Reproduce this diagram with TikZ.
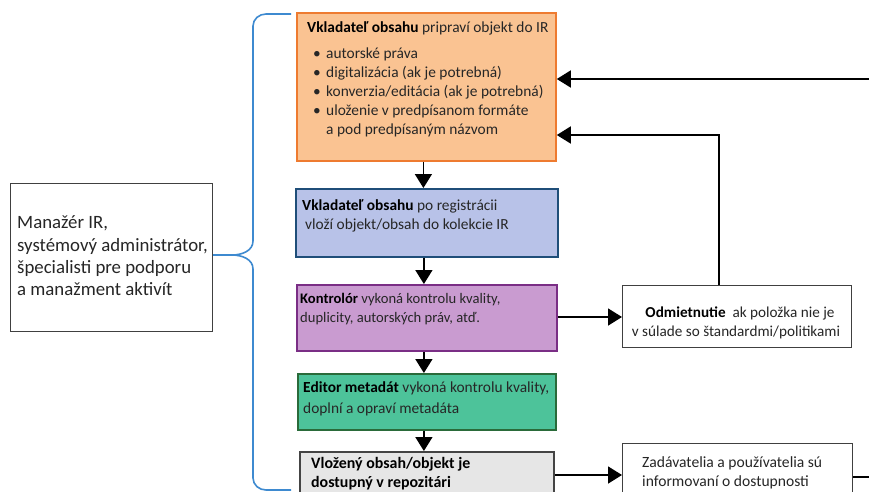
\documentclass[tikz,border=0pt]{standalone}
\usepackage{fontspec}
\setmainfont{Carlito}
\usetikzlibrary{arrows.meta}
\definecolor{orfill}{HTML}{FAC392}
\definecolor{ordraw}{HTML}{EE7B30}
\definecolor{blfill}{HTML}{B8C2E8}
\definecolor{bldraw}{HTML}{1F4E79}
\definecolor{pufill}{HTML}{C99BD0}
\definecolor{pudraw}{HTML}{7A2E85}
\definecolor{grfill}{HTML}{4DC39A}
\definecolor{grdraw}{HTML}{2A6B3A}
\definecolor{gyfill}{HTML}{E6E6E6}
\definecolor{gydraw}{HTML}{444444}
\definecolor{bracecol}{HTML}{3E8AD0}
\definecolor{txt}{HTML}{262626}
\begin{document}
\begin{tikzpicture}[x=1pt,y=-1pt,
  box/.style={draw, line width=1.8pt, inner sep=0pt, anchor=north west},
  plainbox/.style={draw=black!75, line width=1.1pt, fill=white, inner sep=0pt, anchor=north west},
  ln/.style={anchor=base west, inner sep=0pt, text=txt, font=\fontsize{15.4}{18}\selectfont},
  lnc/.style={anchor=base, inner sep=0pt, text=txt, font=\fontsize{15.2}{18}\selectfont},
  lnbig/.style={anchor=base west, inner sep=0pt, text=txt, font=\fontsize{18.8}{22}\selectfont},
  arr/.style={line width=1.6pt, -{Triangle[length=14pt,width=17pt]}}
]
\useasboundingbox (0,0) rectangle (869,491);
\clip (0,0) rectangle (869,491);
\fill[white] (0,0) rectangle (869,491);

% left box
\node[plainbox, minimum width=202pt, minimum height=148pt] (m) at (10,183) {};
\node[lnbig] (m1) at (17,228) {Manažér IR,};
\node[lnbig] (m2) at (17,251) {systémový administrátor,};
\node[lnbig] (m3) at (17,273) {špecialisti pre podporu};
\node[lnbig] (m4) at (17,295) {a manažment aktivít};

% brace
\coordinate (bt) at (232,255);
\draw[bracecol, line width=1.6pt] (m.east |- bt) -- (bt)
  to[out=0,in=-90] (253,241) -- (253,26) to[out=90,in=180] (266,14) -- (291,14);
\draw[bracecol, line width=1.6pt] (bt)
  to[out=0,in=90] (253,269) -- (253,478) to[out=-90,in=180] (266,490) -- (291,490);

% orange
\node[box, fill=orfill, draw=ordraw, minimum width=259pt, minimum height=148pt] (o) at (296,12) {};
\node[ln] (o1) at (307,32) {\textbf{\color{black}Vkladateľ obsahu} pripraví objekt do IR};
\node[ln] (o2) at (313,58) {\makebox[13pt][l]{•}autorské práva};
\node[ln] (o3) at (313,77) {\makebox[13pt][l]{•}digitalizácia (ak je potrebná)};
\node[ln] (o4) at (313,96) {\makebox[13pt][l]{•}konverzia/editácia (ak je potrebná)};
\node[ln] (o5) at (313,115) {\makebox[13pt][l]{•}uloženie v predpísanom formáte};
\node[ln] (o6) at (326,134) {a pod predpísaným názvom};

% blue
\node[box, fill=blfill, draw=bldraw, minimum width=262pt, minimum height=68pt] (b) at (295,188) {};
\node[ln] (b1) at (302,210) {\textbf{\color{black}Vkladateľ obsahu} po registrácii};
\node[ln] (b2) at (305,229) {vloží objekt/obsah do kolekcie IR};

% purple
\node[box, fill=pufill, draw=pudraw, minimum width=260pt, minimum height=66pt] (p) at (296,284) {};
\node[ln, font=\fontsize{14.6}{17}\selectfont] (p1) at (300,303) {\textbf{\color{black}Kontrolór} vykoná kontrolu kvality,};
\node[ln, font=\fontsize{14.6}{17}\selectfont] (p2) at (300,322) {duplicity, autorských práv, atď.};

% green
\node[box, fill=grfill, draw=grdraw, minimum width=258pt, minimum height=56pt] (g) at (297,373) {};
\node[ln] (g1) at (303,392) {\textbf{\color{black}Editor metadát} vykoná kontrolu kvality,};
\node[ln] (g2) at (303,413) {doplní a opraví metadáta};

% gray
\node[box, fill=gyfill, draw=gydraw, minimum width=254pt, minimum height=70pt] (y) at (299,451) {};
\node[ln, font=\fontsize{15.9}{18}\selectfont\bfseries, text=black] (y1) at (311,468) {Vložený obsah/objekt je};
\node[ln, font=\fontsize{15.9}{18}\selectfont\bfseries, text=black] (y2) at (311,487) {dostupný v repozitári};

% reject box
\node[plainbox, minimum width=229pt, minimum height=62pt] (r) at (622,285) {};
\node[lnc] (r1) at (740,317) {\textbf{\color{black}Odmietnutie}\ \ ak položka nie je};
\node[lnc] (r2) at (736,336) {v súlade so štandardmi/politikami};

% info box
\node[plainbox, minimum width=230pt, minimum height=70pt] (z) at (622,443) {};
\node[ln, font=\fontsize{15.6}{18}\selectfont] (z1) at (642,467) {Zadávatelia a používatelia sú};
\node[ln, font=\fontsize{15.6}{18}\selectfont] (z2) at (642,486) {informovaní o dostupnosti};

% vertical arrows
\draw[arr] ([xshift=-3pt]o.south) -- ([xshift=-3pt]o.south |- b.north);
\draw[arr] ([xshift=-3pt]b.south) -- ([xshift=-3pt]b.south |- p.north);
\draw[arr] ([xshift=-3pt]p.south) -- ([xshift=-3pt]p.south |- g.north);
\draw[arr] ([xshift=-3pt]g.south) -- ([xshift=-3pt]g.south |- y.north);

% side arrows
\coordinate (pr) at (0,317);
\draw[arr] (pr -| p.east) -- (pr -| r.west);
\coordinate (fb) at (719,135);
\draw[arr] (fb |- r.north) -- (fb) -- (fb -| o.east);
\coordinate (in1) at (869,79);
\draw[arr] (in1) -- (in1 -| o.east);
\coordinate (gy) at (0,475);
\draw[arr] (gy -| y.east) -- (gy -| z.west);
\coordinate (out1) at (869,477);
\draw[line width=1.6pt] (out1 -| z.east) -- (out1);
\end{tikzpicture}
\end{document}
